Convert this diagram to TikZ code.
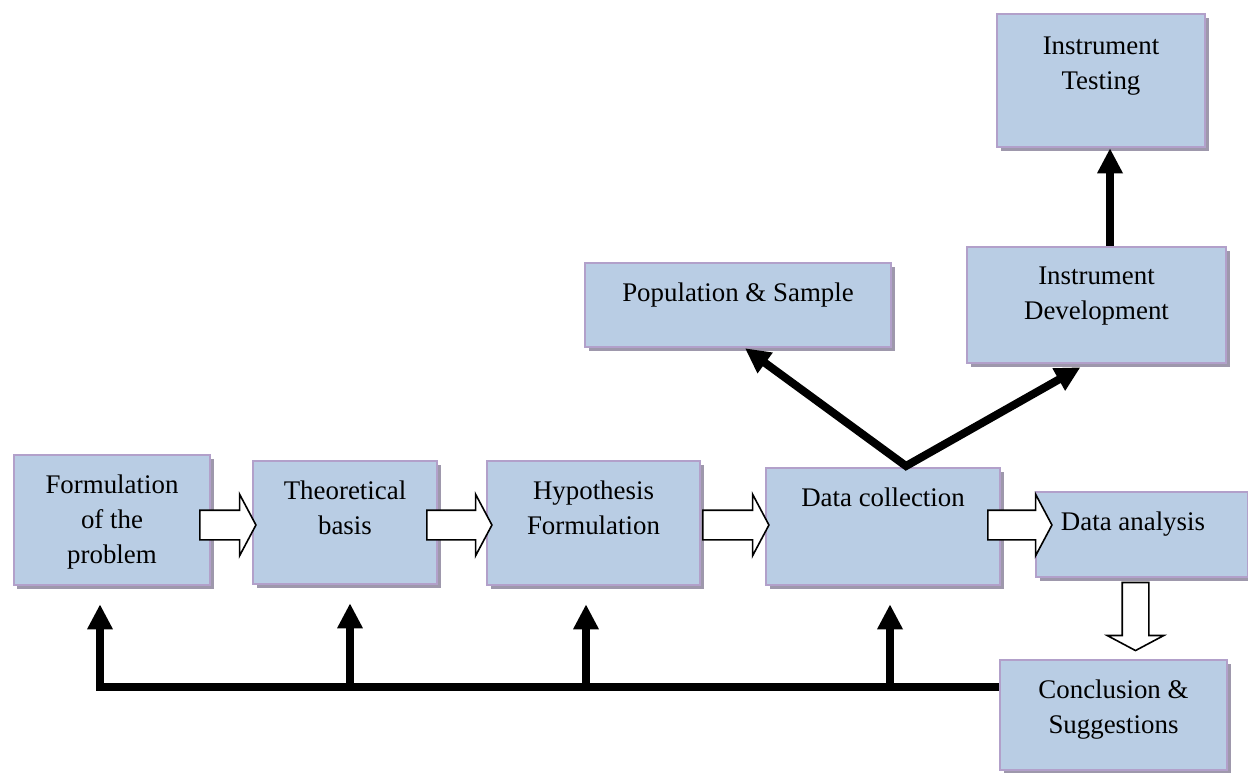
\documentclass[tikz,border=0pt]{standalone}
\usepackage{fontspec}
\setmainfont{Liberation Serif}
\usetikzlibrary{arrows.meta,shapes.arrows,shadows,calc}
\definecolor{boxfill}{RGB}{185,205,228}
\definecolor{boxline}{RGB}{178,160,202}
\definecolor{boxshade}{RGB}{158,152,172}
\newcommand{\pxl}{0.02cm}

\begin{document}
\begin{tikzpicture}[x=0.02cm,y=-0.02cm,
    blk/.style={rectangle,draw=boxline,fill=boxfill,line width=2.5*\pxl,inner sep=0pt,
        drop shadow={shadow xshift=0.07cm,shadow yshift=-0.07cm,fill=boxshade,opacity=1}},
    every label/.style={anchor=north,align=center,yshift=-15*\pxl,
        font=\fontsize{15.3}{19.9}\selectfont},
    hollow/.style={single arrow,draw=black,fill=white,line width=1.6*\pxl,
        inner xsep=0pt,inner ysep=14*\pxl,
        single arrow head extend=0.32cm,single arrow tip angle=124},
    fb/.style={line width=8*\pxl,line join=miter,-{Triangle[length=0.5cm,width=0.48cm]}}]
\useasboundingbox (0,0) rectangle (1248,772);

% main row
\node[blk,minimum width=196*\pxl,minimum height=130*\pxl,
      label={north:Formulation\\of the\\problem}] (fp) at (112,520) {};
\node[blk,minimum width=184*\pxl,minimum height=123*\pxl,
      label={north:Theoretical\\basis}] (tb) at (345,522.5) {};
\node[blk,minimum width=213*\pxl,minimum height=124*\pxl,
      label={north:Hypothesis\\Formulation}] (hf) at (593.5,523) {};
\node[blk,minimum width=234*\pxl,minimum height=117*\pxl,
      label={north:Data collection}] (dc) at (883,526.5) {};
\node[blk,minimum width=212*\pxl,minimum height=85*\pxl,
      label={[xshift=-9*\pxl]north:Data analysis}] (da) at (1142,534.5) {};
\node[blk,minimum width=227*\pxl,minimum height=110*\pxl,
      label={north:Conclusion \&\\Suggestions}] (cs) at (1113.5,715) {};

% upper boxes
\node[blk,minimum width=306*\pxl,minimum height=84*\pxl,
      label={north:Population \& Sample}] (ps) at (738,305) {};
\node[blk,minimum width=259*\pxl,minimum height=116*\pxl,
      label={north:Instrument\\Development}] (id) at (1096.5,305) {};
\node[blk,minimum width=208*\pxl,minimum height=133*\pxl,
      label={[yshift=-3*\pxl]north:Instrument\\Testing}] (it) at (1101,80.5) {};

% hollow arrows
\node[hollow,minimum height=56*\pxl] (h1) at (224,525) {};
\node[hollow,minimum height=65*\pxl] (h2) at (455.5,525) {};
\node[hollow,minimum height=66*\pxl] (h3) at (732,525) {};
\node[hollow,minimum height=64*\pxl] (h4) at (1016,525) {};
\node[hollow,minimum height=68*\pxl,inner xsep=12.5*\pxl,inner ysep=0pt,
      single arrow head extend=0.3cm,shape border rotate=270] (h5) at (1135.5,613) {};

% data collection branches
\coordinate (split) at (906,466);
\draw[fb,{Triangle[length=0.5cm,width=0.48cm]}-{Triangle[length=0.5cm,width=0.48cm]}]
    ($(ps.south)+(7,0)$) -- (split) -- ($(id.south)+(-16,3)$);
\draw[fb] ($(id.north)+(13.5,0)$) coordinate (idtop) -- (idtop |- it.south);

% feedback line
\coordinate (bus) at ($(cs.west)+(0,-28)$);
\path ($(tb.south)+(5,18)$) coordinate (tbtip)
      ($(hf.south)+(-7.5,18)$) coordinate (hftip)
      ($(dc.south)+(7,18)$) coordinate (dctip);
\draw[fb] (bus) -| ($(fp.south)+(-12,18)$);
\draw[fb] (bus -| tbtip) -- (tbtip);
\draw[fb] (bus -| hftip) -- (hftip);
\draw[fb] (bus -| dctip) -- (dctip);
\end{tikzpicture}
\end{document}
